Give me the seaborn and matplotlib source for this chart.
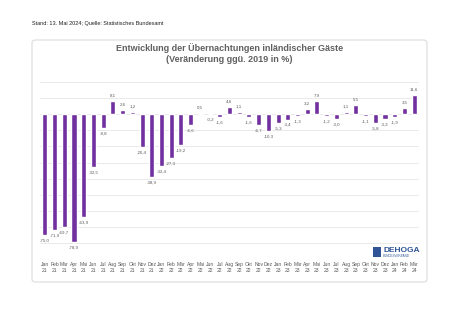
import matplotlib
matplotlib.use("Agg")
import matplotlib.pyplot as plt
import seaborn as sns
import pandas as pd
from matplotlib.patches import FancyBboxPatch, Rectangle

months = ["Jan", "Feb", "Mär", "Apr", "Mai", "Jun", "Jul", "Aug", "Sep", "Okt", "Nov", "Dez"]
years = ["21"] * 12 + ["22"] * 12 + ["23"] * 12 + ["24"] * 3
month_labels = months * 3 + months[:3]
values = [-75.0, -71.9, -69.7, -78.9, -63.9, -32.5, -8.8, 8.1, 2.6, 1.2, -20.4, -38.9,
          -32.4, -27.3, -19.2, -6.6, 0.5, -0.2, -1.6, 4.6, 1.1, -1.6, -6.7, -10.3,
          -5.3, -3.4, -1.3, 3.2, 7.9, -1.2, -3.0, 1.1, 5.5, -1.1, -5.8, -3.3,
          -1.9, 3.5, 11.6]
tick_labels = [f"{m}\n{y}" for m, y in zip(month_labels, years)]

sns.set_theme(style="white")
plt.rcParams["font.family"] = ["Liberation Sans", "DejaVu Sans"]

fig = plt.figure(figsize=(4.74, 3.34), dpi=100)
fig.patch.set_facecolor("white")

# card
card = FancyBboxPatch((32 / 474, 1 - 282 / 334), (427 - 32) / 474, (282 - 40) / 334,
                      boxstyle="round,pad=0,rounding_size=0.008", transform=fig.transFigure,
                      facecolor="white", edgecolor="#dcdcdc", linewidth=0.8, zorder=-5)
fig.patches.append(card)

ax = fig.add_axes([40 / 474, 1 - 259.6 / 334, (419 - 40) / 474, (259.6 - 81.7) / 334])
ax.set_zorder(2)
ax.set_facecolor("none")

df = pd.DataFrame({"label": tick_labels, "value": values})
sns.barplot(data=df, x="label", y="value", color="#7030A0", saturation=1, width=0.52, ax=ax, zorder=3)

ax.set_ylim(-90, 20)
ax.set_xlim(-0.5, len(values) - 0.5)
ax.set_yticks(range(-90, 21, 10))
ax.yaxis.grid(True, color="#e6e6e6", linewidth=0.6, zorder=0)
ax.set_axisbelow(True)
ax.set_yticklabels([])
ax.tick_params(axis="y", length=0)
ax.tick_params(axis="x", length=0, labelsize=3.6, labelcolor="#595959", pad=2)
ax.set_xlabel("")
ax.set_ylabel("")
for s in ax.spines.values():
    s.set_visible(False)

labels = [f"{v:.1f}".replace(".", ",") for v in values]
ax.bar_label(ax.containers[0], labels=labels, padding=2.5, fontsize=3.2, color="#595959")

fig.text(229.5 / 474, 1 - 48 / 334, "Entwicklung der Übernachtungen inländischer Gäste",
         ha="center", va="center", fontsize=6.5, fontweight="bold", color="#606060")
fig.text(229.5 / 474, 1 - 59 / 334, "(Veränderung ggü. 2019 in %)",
         ha="center", va="center", fontsize=6.5, fontweight="bold", color="#606060")

fig.text(32 / 474, 1 - 24 / 334, "Stand: 13. Mai 2024; Quelle: Statistisches Bundesamt",
         ha="left", va="center", fontsize=4.0, color="#222222")

# DEHOGA logo
fig.patches.append(Rectangle((373 / 474, 1 - 257 / 334), 8 / 474, 10 / 334,
                             transform=fig.transFigure, facecolor="#2f5597", edgecolor="none"))
fig.text(383 / 474, 1 - 250 / 334, "DEHOGA", ha="left", va="center", fontsize=6,
         fontweight="bold", color="#2f5597")
fig.text(383 / 474, 1 - 256 / 334, "BUNDESVERBAND", ha="left", va="center", fontsize=2.2,
         color="#2f5597")

fig.savefig("out.png", dpi=100, facecolor="white")
